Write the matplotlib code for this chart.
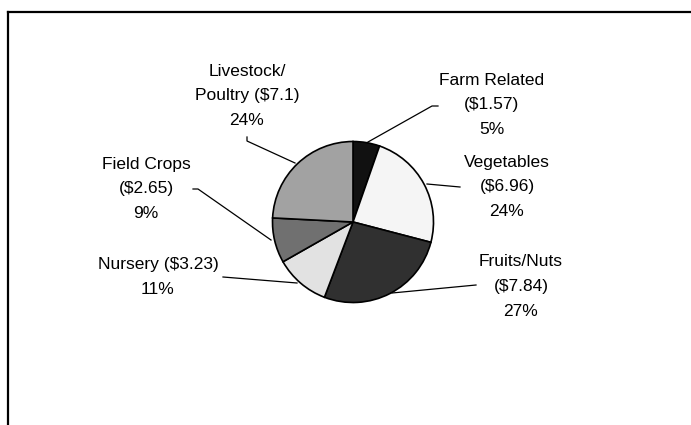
import matplotlib
matplotlib.use("Agg")
import matplotlib.pyplot as plt
from matplotlib.lines import Line2D

# ---- data ----
categories = ["Farm Related", "Vegetables", "Fruits/Nuts", "Nursery", "Field Crops", "Livestock/Poultry"]
values = [1.57, 6.96, 7.84, 3.23, 2.65, 7.1]
label_names = ["Farm Related\n", "Vegetables\n", "Fruits/Nuts\n", "Nursery ", "Field Crops\n", "Livestock/\nPoultry "]
colors = ["#111111", "#f5f5f5", "#303030", "#e2e2e2", "#707070", "#a2a2a2"]

W, H = 691, 425
fig = plt.figure(figsize=(W / 100, H / 100), dpi=100)
ax = fig.add_axes([0, 0, 1, 1])

def Y(y):
    return H - y

cx, cy, r = 353, 222, 80.5
ax.pie(values, colors=colors, startangle=90, counterclock=False,
       center=(cx, Y(cy)), radius=r, frame=True,
       wedgeprops=dict(edgecolor="black", linewidth=1.2))
ax.set_xlim(0, W)
ax.set_ylim(0, H)
ax.set_aspect("equal")
ax.axis("off")

total = sum(values)
# label anchor (centre x, top-line centre y) in pixel coords
label_pos = [(492, 80), (507, 162), (521, 262), (158, 265), (146, 164), (247, 71)]
leaders = [
    [(438, 106), (432, 106), (368, 142)],
    [(460, 187), (427, 184)],
    [(476, 285), (392, 293)],
    [(223, 277), (297, 283)],
    [(193, 189), (198, 189), (271, 240)],
    [(247, 137), (247, 141), (295, 163)],
]

for name, v, (lx, ly), pts in zip(label_names, values, label_pos, leaders):
    pct = round(v / total * 100)
    txt = f"{name}(${v:g})\n{pct}%"
    ax.text(lx, Y(ly - 7.5), txt, ha="center", va="top",
            fontsize=12.5, family=["Liberation Sans", "DejaVu Sans"],
            linespacing=1.8, transform=ax.transData)
    xs = [p[0] for p in pts]
    ys = [Y(p[1]) for p in pts]
    ax.plot(xs, ys, color="black", linewidth=0.9)

# border lines (top and left)
fig.add_artist(Line2D([7.5 / W, 1.0], [1 - 12.3 / H, 1 - 12.3 / H], color="black", linewidth=1.6, transform=fig.transFigure))
fig.add_artist(Line2D([7.5 / W, 7.5 / W], [0, 1 - 12.3 / H], color="black", linewidth=1.6, transform=fig.transFigure))

fig.savefig("out.png", dpi=100)
